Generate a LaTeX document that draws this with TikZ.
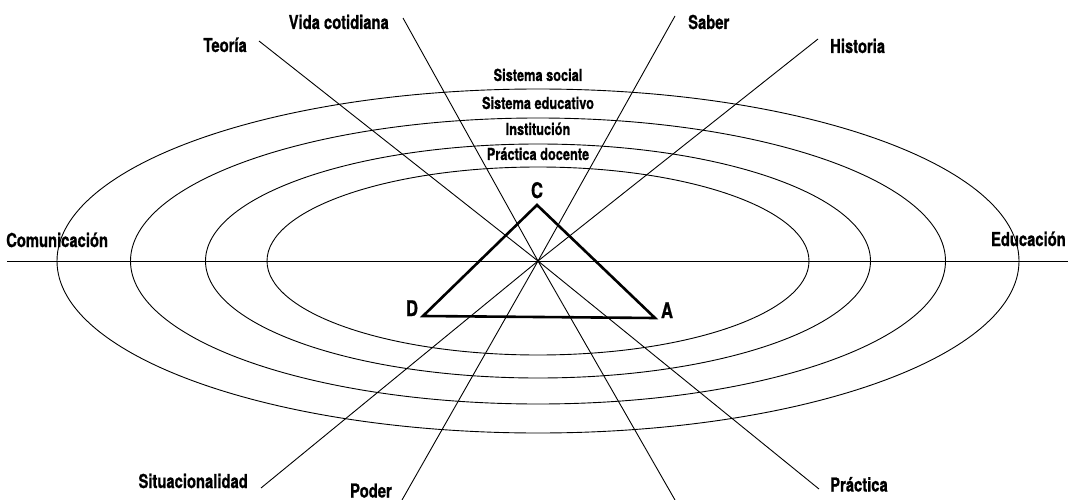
\documentclass[tikz,border=0pt]{standalone}
\usepackage{fontspec}
\usepackage{tikz}
\usetikzlibrary{positioning}
\newfontfamily\condfont[FakeStretch=0.77, FakeBold=0.8]{TeX Gyre Heros}

\begin{document}
\begin{tikzpicture}[
    x=1pt, y=-1pt,
    lbl/.style={font=\condfont\bfseries\fontsize{19.2}{22}\selectfont, inner sep=0pt},
    ringlbl/.style={font=\condfont\bfseries\fontsize{16.6}{19}\selectfont, inner sep=0pt, anchor=base},
    vtx/.style={font=\condfont\bfseries\fontsize{21.5}{24}\selectfont, inner sep=0pt, anchor=base},
    ring/.style={draw, line width=0.9pt},
    ray/.style={draw, line width=0.9pt},
    tri/.style={draw, line width=2.6pt, line join=miter}
  ]
    \useasboundingbox (0,0) rectangle (1068,500);
    \coordinate (o) at (538,261);

    % nested rings
    \foreach \rx/\ry in {481/172, 407.5/143, 332.5/117, 271/94}
      \draw[ring] (o) ellipse [x radius=\rx, y radius=\ry];

    \node[ringlbl] (social) at (538,81)  {Sistema social};
    \node[ringlbl] (educ)   at (538,109) {Sistema educativo};
    \node[ringlbl] (inst)   at (538,135) {Institución};
    \node[ringlbl] (pdoc)   at (538,160) {Práctica docente};

    % axis
    \coordinate (west) at (7,261);
    \coordinate (east) at (1068,261);
    \draw[ray] (west) -- (east);
    \node[lbl, anchor=base west] (comunic) at (6,247)    {Comunicación};
    \node[lbl, anchor=base east] (educa)   at (1066,246) {Educación};

    % rays through the centre
    \coordinate (teoEnd) at (259,41);
    \coordinate (praEnd) at (819,489);
    \coordinate (vidEnd) at (403,18);
    \coordinate (vidBot) at (675,500);
    \coordinate (sabEnd) at (675,16);
    \coordinate (podEnd) at (402,500);
    \coordinate (hisEnd) at (818,39);
    \coordinate (sitEnd) at (261,488);
    \draw[ray] (teoEnd) -- (o) -- (praEnd);
    \draw[ray] (vidEnd) -- (o) -- (vidBot);
    \draw[ray] (sabEnd) -- (o) -- (podEnd);
    \draw[ray] (hisEnd) -- (o) -- (sitEnd);

    \node[lbl, anchor=base east] (teoria)   at (247,52)    {Teoría};
    \node[lbl, anchor=base east] (vida)     at (389,29)    {Vida cotidiana};
    \node[lbl, anchor=base west] (saber)    at (688,29)    {Saber};
    \node[lbl, anchor=base west] (historia) at (830,53)    {Historia};
    \node[lbl, anchor=base east] (situ)     at (248,488)   {Situacionalidad};
    \node[lbl, anchor=base east] (poder)    at (392,497.5) {Poder};
    \node[lbl, anchor=base west] (practica) at (830,491.5) {Práctica};

    % triangle
    \coordinate (c) at (537,205);
    \coordinate (d) at (423,316);
    \coordinate (a) at (655,318);
    \draw[tri] (c) -- (a) -- (d) -- cycle;
    \node[vtx] (lc) at (537,198) {C};
    \node[vtx] (ld) at (412,316) {D};
    \node[vtx] (la) at (667,318) {A};
\end{tikzpicture}
\end{document}
